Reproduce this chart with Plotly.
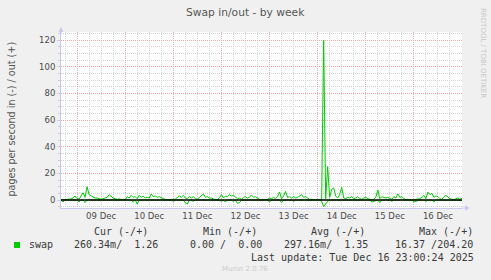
import plotly.graph_objects as go
import pandas as pd

W, H = 491, 280
L, R, T, B = 61, 29, 32, 72
PW, PH = W - L - R, H - T - B

start = "2025-12-08 16:00"
end = "2025-12-17 00:00"

# hourly samples from 2025-12-08 16:00
swap_out = [
    0.3, 0, 0.2, 0.5, 0.5, 0.8, 1.5, 3, 1, 0.5, 3, 5.5, 2, 10, 4, 3, 2.5, 1.5, 1.5, 1,
    0.5, 1, 1.5, 2, 4, 2.5, 1.5, 1, 0.5, 0.8, 0.3, 0.5, 0.2, 2.5, 1.5, 3.5, 2, 2.5, 1, 3.5,
    2, 3, 1.5, 2, 1.5, 4.5, 2.5, 3, 2, 2.5, 1.5, 1, 0.5, 0.3, 0.2, 0.5, 0.3, 0.5, 2, 3,
    2, 3.5, 1.5, 1, 2.5, 1.5, 2.5, 1, 0.5, 2, 3, 4.5, 2, 2.5, 1.5, 1.5, 0.8, 0.3, 0.5, 1.5,
    4, 1.5, 3, 2.5, 4, 3, 3.5, 2, 1, 1.5, 0.5, 2, 2.5, 1.5, 2, 3.75, 2, 2.5, 1.5, 0.5,
    0.2, 0.3, 0.2, 0.5, 1.5, 1, 2, 1, 2.5, 6, 1, 3, 6.5, 2, 2.5, 1.5, 2.5, 1.5, 2, 3,
    4, 2, 2.5, 1.5, 0.5, 0.3, 0.5, 0.3, 0.2, 0, 0, 120, 1, 25, 2, 8, 9, 3, 1.5, 4,
    9.5, 1.5, 1, 2, 1.5, 2.5, 1, 1.5, 2.5, 1, 0.5, 1.5, 2, 1, 0.3, 0.2, 0.5, 2, 7.5, 1,
    2.5, 2, 1.5, 2, 1, 0.5, 2.5, 1.5, 4.5, 2, 2.5, 1, 0.3, 0.2, 0.3, 0.2, 0, 0.5, 0.5, 1,
    2, 3.5, 1, 6, 4, 5, 2, 3, 2.5, 1, 0.5, 2.5, 3.5, 2, 1, 0.5, 0.3, 1, 1.5, 0.5,
    1.26,
]
swap_in = [
    0, -1.5, 0, 0, 0, 0, 0, 0, 0, -1.5, 0, 0, -2, 0, 0, 0, 0, 0, 0, 0,
    0, 0, 0, 0, 0, 0, 0, 0, 0, 0, 0, 0, 0, 0, 0, 0, -1.5, 0, -3, 0,
    0, 0, 0, 0, 0, 0, 0, 0, 0, 0, 0, 0, 0, 0, 0, 0, -1, 0, 0, 0,
    0, 0, -2, -3, 0, 0, -1, 0, 0, 0, 0, 0, 0, 0, 0, 0, 0, 0, 0, 0,
    -1, 0, -1.5, 0, 0, 0, -1, 0, -2.5, -2, 0, 0, 0, 0, 0, 0, 0, 0, 0, 0,
    0, 0, 0, 0, -1.5, 0, 0, 0, 0, 0, -2, 0, 0, 0, 0, 0, -1, 0, 0, 0,
    0, 0, 0, 0, 0, 0, 0, 0, 0, 0, -1, -5, -3, -1, 0, 0, 0, 0, 0, 0,
    0, 0, 0, 0, 0, 0, 0, 0, 0, 0, 0, 0, 0, 0, 0, -1.5, -1, 0, 0, -2,
    0, 0, 0, 0, 0, -1, 0, 0, 0, 0, 0, 0, 0, 0, 0, 0, -1.5, -1, 0, 0,
    0, 0, -1, 0, 0, 0, -1.5, 0, 0, 0, 0, 0, 0, 0, 0, 0, 0, 0, 0, 0,
    -0.26,
]
times = pd.date_range(start, periods=len(swap_out), freq="h")

y_ticks = [0, 20, 40, 60, 80, 100, 120]
y_range = [-6, 126]

legend_heads = [("Cur (-/+)", 92), ("Min (-/+)", 201), ("Avg (-/+)", 309), ("Max (-/+)", 417)]
legend_vals = [("swap", 27), ("260.34m/  1.26", 72), ("0.00 /  0.00", 188),
               ("297.16m/  1.35", 282), ("16.37 /204.20", 393)]
last_update = "Last update: Tue Dec 16 23:00:24 2025"

GREEN = "#00CC00"
RED_GRID = "#F2A8A8"
GRAY_GRID = "#D4D4D4"
AXIS = "#C8C8F0"
TXT = "#4a4a4a"


def px(x):
    return (x - L) / PW


def py(y):
    return (H - B - y) / PH


fig = go.Figure()
fig.add_trace(go.Scatter(x=times, y=swap_in, mode="lines",
                         line=dict(color=GREEN, width=1), hoverinfo="skip"))
fig.add_trace(go.Scatter(x=times, y=swap_out, mode="lines",
                         line=dict(color=GREEN, width=1), hoverinfo="skip"))

fig.update_layout(
    width=W, height=H,
    margin=dict(l=L, r=R, t=T, b=B, pad=0),
    paper_bgcolor="#F0F0F0", plot_bgcolor="#FFFFFF",
    showlegend=False,
    font=dict(family="DejaVu Sans", size=8.5, color=TXT),
    xaxis=dict(
        type="date", range=[start, end],
        tick0="2025-12-08", dtick=86400000, tickformat="%d %b",
        ticklabelmode="period", ticks="",
        showgrid=True, gridcolor=RED_GRID, griddash="1px,1px", gridwidth=1,
        minor=dict(dtick=6 * 3600000, showgrid=True, gridcolor=GRAY_GRID,
                   griddash="1px,1px", gridwidth=1),
        showline=True, linecolor=AXIS, linewidth=1,
        zeroline=False, fixedrange=True,
        tickfont=dict(family="DejaVu Sans", size=8.5, color=TXT),
    ),
    yaxis=dict(
        range=y_range, tickvals=y_ticks,
        showgrid=True, gridcolor=RED_GRID, griddash="1px,1px", gridwidth=1,
        minor=dict(dtick=5, showgrid=True, gridcolor=GRAY_GRID,
                   griddash="1px,1px", gridwidth=1, ticks="outside",
                   ticklen=2, tickcolor=AXIS),
        ticks="outside", ticklen=3, tickcolor=AXIS,
        showline=True, linecolor=AXIS, linewidth=1,
        zeroline=False, fixedrange=True,
        tickfont=dict(family="DejaVu Sans", size=8.5, color=TXT),
    ),
)

# zero rule
fig.add_shape(type="line", xref="paper", yref="y", x0=0, x1=1, y0=0, y1=0,
              line=dict(color="#000000", width=1.6), layer="above")

ann = []
ann.append(dict(text="Swap in/out - by week", x=px(245.5), y=py(12), xref="paper",
                yref="paper", showarrow=False, xanchor="center", yanchor="middle",
                font=dict(family="DejaVu Sans", size=10.7, color="#555555")))
ann.append(dict(text="pages per second in (-) / out (+)", x=px(11), y=py(119.5),
                xref="paper", yref="paper", showarrow=False, textangle=-90,
                xanchor="center", yanchor="middle",
                font=dict(family="DejaVu Sans", size=9.6, color="#555555")))
ann.append(dict(text="RRDTOOL / TOBI OETIKER", x=px(483), y=py(53), xref="paper",
                yref="paper", showarrow=False, textangle=90, xanchor="center",
                yanchor="middle", font=dict(family="DejaVu Sans", size=7, color="#C8C8C8")))
for t, x in legend_heads:
    ann.append(dict(text=t.replace(" ", "&nbsp;"), x=px(x), y=py(232), xref="paper",
                    yref="paper", showarrow=False, xanchor="left", yanchor="middle",
                    font=dict(family="DejaVu Sans Mono", size=10, color="#3a3a3a")))
for t, x in legend_vals:
    ann.append(dict(text=t.replace(" ", "&nbsp;"), x=px(x), y=py(244.5), xref="paper",
                    yref="paper", showarrow=False, xanchor="left", yanchor="middle",
                    font=dict(family="DejaVu Sans Mono", size=10, color="#3a3a3a")))
ann.append(dict(text=last_update.replace(" ", "&nbsp;"), x=px(476), y=py(257),
                xref="paper", yref="paper", showarrow=False, xanchor="right",
                yanchor="middle",
                font=dict(family="DejaVu Sans Mono", size=10, color="#3a3a3a")))
ann.append(dict(text="Munin 2.0.76", x=px(245), y=py(268.5), xref="paper",
                yref="paper", showarrow=False, xanchor="center", yanchor="middle",
                font=dict(family="DejaVu Sans", size=7, color="#CCCCCC")))
# axis arrows
ann.append(dict(text="", x=px(470), y=py(208), ax=-10, ay=0, xref="paper", yref="paper",
                axref="pixel", ayref="pixel", showarrow=True, arrowhead=2,
                arrowsize=1, arrowwidth=1, arrowcolor=AXIS))
ann.append(dict(text="", x=px(61), y=py(27), ax=0, ay=8, xref="paper", yref="paper",
                axref="pixel", ayref="pixel", showarrow=True, arrowhead=2,
                arrowsize=1, arrowwidth=1, arrowcolor=AXIS))
fig.update_layout(annotations=ann)

# legend colour swatch
fig.add_shape(type="rect", xref="paper", yref="paper", x0=px(14), x1=px(20),
              y0=py(248), y1=py(242), fillcolor=GREEN, line=dict(width=0))

fig.write_html("out.html")
